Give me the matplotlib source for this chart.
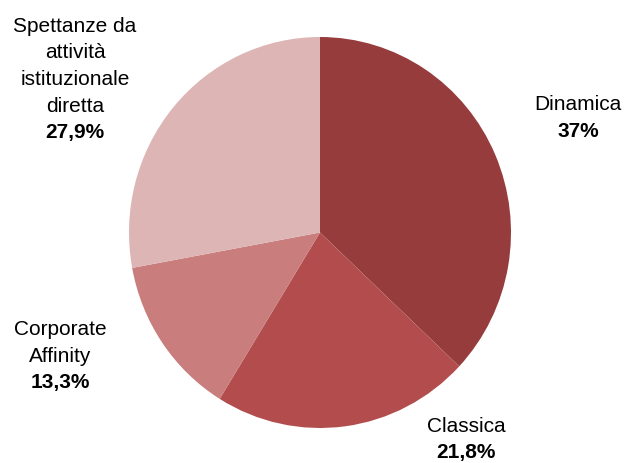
import matplotlib
matplotlib.use("Agg")
import matplotlib.pyplot as plt

categories = ["Dinamica", "Classica", "Corporate\nAffinity",
              "Spettanze da\nattività\nistituzionale\ndiretta"]
shares = [37.0, 21.8, 13.3, 27.9]
colors = ["#963C3C", "#B34D4D", "#C97D7D", "#DEB5B5"]

W, H = 627, 463
fig = plt.figure(figsize=(W / 100, H / 100), dpi=100)
ax = fig.add_axes([0, 0, 1, 1])

# pie centre and radii in pixels
cx, cy, rx, ry = 320, 232.5, 191, 195.5

ax.pie(shares, colors=colors, startangle=90, counterclock=False,
       radius=1, center=(0, 0), wedgeprops=dict(linewidth=0))
ax.set_aspect("auto")
ax.set_xlim(-cx / rx, (W - cx) / rx)
ax.set_ylim(-(H - cy) / ry, cy / ry)
ax.axis("off")


def fmt(v):
    s = f"{v:.1f}".rstrip("0").rstrip(".")
    return s.replace(".", ",") + "%"


# label anchor: centre x and baseline of the last (bold) line, in pixels
label_pos = [(578, 137), (466, 458), (60, 388), (75, 138)]
font = "Liberation Sans"
fs = 15
line_h = 26.5
for name, v, (lx, ly) in zip(categories, shares, label_pos):
    fig.text(lx / W, 1 - ly / H, fmt(v), ha="center", va="baseline",
             fontsize=fs, fontweight="bold", family=font)
    lines = name.split("\n")
    for i, line in enumerate(reversed(lines)):
        y = ly - line_h * (i + 1)
        fig.text(lx / W, 1 - y / H, line, ha="center", va="baseline",
                 fontsize=fs, family=font)

fig.savefig("out.png", dpi=100)
